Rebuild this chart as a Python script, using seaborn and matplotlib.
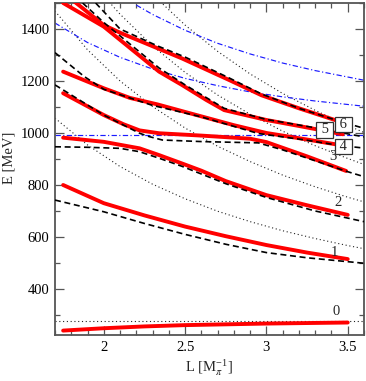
import matplotlib
matplotlib.use("Agg")
import matplotlib.pyplot as plt
import seaborn as sns
from matplotlib.ticker import MultipleLocator, FixedLocator, FixedFormatter

# ---------------- data ----------------
# red solid levels
L_R0 = [1.75, 2.0, 2.25, 2.5, 2.75, 3.0, 3.25, 3.5]
E_R0 = [240, 249, 256, 261, 264, 267, 269, 271]
L_R1 = [1.75, 2.0, 2.25, 2.5, 2.75, 3.0, 3.25, 3.5]
E_R1 = [800, 730, 683, 640, 603, 569, 540, 515]
L_R2 = [1.75, 2.0, 2.22, 2.34, 2.48, 2.6, 2.75, 3.0, 3.25, 3.5]
E_R2 = [982, 966, 941, 915, 883, 855, 815, 761, 722, 685]
L_R3 = [1.75, 2.0, 2.12, 2.22, 2.34, 2.6, 2.9, 3.0, 3.25, 3.49]
E_R3 = [1153, 1069, 1034, 1010, 999, 990, 978, 965, 910, 854]
L_R4 = [1.75, 2.0, 2.16, 2.33, 2.57, 2.8, 3.0, 3.2, 3.45]
E_R4 = [1236, 1172, 1135, 1110, 1069, 1030, 1000, 980, 954]
L_R5 = [1.75, 2.0, 2.34, 2.48, 2.63, 2.74, 3.0, 3.2, 3.47]
E_R5 = [1500, 1409, 1236, 1185, 1127, 1088, 1050, 1027, 995]
L_R6 = [1.82, 2.0, 2.11, 2.33, 2.48, 2.77, 2.97, 3.2, 3.47]
E_R6 = [1505, 1415, 1383, 1326, 1287, 1204, 1145, 1095, 1040]

# black dashed levels
L_D1 = [1.7, 2.0, 2.25, 2.5, 2.75, 3.0, 3.25, 3.45, 3.6]
E_D1 = [742, 697, 652, 610, 572, 540, 520, 508, 499]
L_D2 = [1.7, 1.9, 2.1, 2.22, 2.34, 2.48, 2.75, 3.0, 3.3, 3.6]
E_D2 = [947, 945, 941, 928, 903, 872, 805, 752, 700, 659]
L_D3 = [1.7, 2.0, 2.22, 2.28, 2.36, 2.6, 2.95, 3.1, 3.3, 3.49, 3.6]
E_D3 = [1185, 1069, 999, 986, 973, 967, 962, 935, 893, 853, 832]
L_D4 = [1.7, 1.88, 2.0, 2.3, 2.6, 2.95, 3.24, 3.45, 3.6]
E_D4 = [1309, 1217, 1168, 1106, 1062, 998, 973, 952, 942]
L_D5 = [1.87, 2.0, 2.34, 2.5, 2.74, 3.0, 3.3, 3.6]
E_D5 = [1500, 1425, 1250, 1185, 1095, 1052, 1020, 985]
L_D6 = [1.95, 2.1, 2.33, 2.5, 2.77, 2.97, 3.2, 3.45, 3.6]
E_D6 = [1500, 1400, 1335, 1292, 1212, 1150, 1095, 1045, 1018]

# black dotted (free pi-pi levels)
L_F0 = [1.7, 3.6]
E_F0 = [276, 276]
L_F1 = [1.7, 1.9, 2.1, 2.3, 2.5, 2.7, 2.9, 3.1, 3.3, 3.5, 3.6]
E_F1 = [1057, 954, 871, 803, 747, 699, 659, 624, 594, 567, 555]
L_F2 = [1.7, 1.9, 2.1, 2.3, 2.5, 2.7, 2.9, 3.1, 3.3, 3.5, 3.6]
E_F2 = [1469, 1320, 1200, 1102, 1019, 949, 890, 838, 793, 753, 735]
L_F3 = [2.0, 2.1, 2.3, 2.5, 2.7, 2.9, 3.1, 3.3, 3.5, 3.6]
E_F3 = [1527, 1457, 1335, 1233, 1146, 1072, 1007, 951, 902, 879]
L_F4 = [2.3, 2.5, 2.7, 2.9, 3.1, 3.3, 3.5, 3.6]
E_F4 = [1533, 1415, 1314, 1227, 1152, 1087, 1029, 1002]

# blue dash-dot (free K Kbar levels)
L_K0 = [1.7, 3.6]
E_K0 = [992, 992]
L_K1 = [1.7, 1.9, 2.1, 2.3, 2.5, 2.7, 2.9, 3.1, 3.3, 3.6]
E_K1 = [1423, 1348, 1291, 1246, 1210, 1182, 1158, 1139, 1123, 1103]
L_K2 = [2.2, 2.3, 2.5, 2.7, 2.9, 3.1, 3.3, 3.6]
E_K2 = [1492, 1456, 1395, 1345, 1304, 1269, 1240, 1203]

# level labels
plain_labels = ["0", "1", "2", "3"]
plain_L = [3.43, 3.42, 3.44, 3.41]
plain_E = [312, 542, 731, 908]
box_labels = ["4", "5", "6"]
box_L = [3.475, 3.36, 3.475]
box_E = [947, 1012, 1033]

x_ticks = [2, 2.5, 3, 3.5]
x_tick_labels = ["2", "2.5", "3", "3.5"]
y_ticks = [400, 600, 800, 1000, 1200, 1400]
y_tick_labels = ["400", "600", "800", "1000", "1200", "1400"]

# ---------------- style ----------------
sns.set_theme(style="ticks")
plt.rcParams["font.family"] = ["Liberation Serif", "DejaVu Serif"]
plt.rcParams["mathtext.fontset"] = "stix"

fig = plt.figure(figsize=(3.66, 3.81), dpi=100)
ax = fig.add_axes([55 / 366, 1 - 335 / 381, 309 / 366, 332 / 381])


def draw(L, E, **kw):
    sns.lineplot(x=L, y=E, ax=ax, sort=False, estimator=None, legend=False, **kw)


dot_kw = dict(color="#222222", linewidth=0.8, linestyle=(0, (1, 2.4)), zorder=1)
for L, E in [(L_F0, E_F0), (L_F1, E_F1), (L_F2, E_F2), (L_F3, E_F3), (L_F4, E_F4)]:
    draw(L, E, **dot_kw)

blue_kw = dict(color="#1a1aff", linewidth=0.85, linestyle=(0, (4.5, 2, 1, 2)), zorder=2)
for L, E in [(L_K0, E_K0), (L_K1, E_K1), (L_K2, E_K2)]:
    draw(L, E, **blue_kw)

red_kw = dict(color="#ff0000", linewidth=2.8, linestyle="-", zorder=3)
for L, E in [(L_R0, E_R0), (L_R1, E_R1), (L_R2, E_R2), (L_R3, E_R3),
             (L_R4, E_R4), (L_R5, E_R5), (L_R6, E_R6)]:
    draw(L, E, **red_kw)

dash_kw = dict(color="black", linewidth=1.2, linestyle=(0, (3.6, 2.2)), zorder=4)
for L, E in [(L_D1, E_D1), (L_D2, E_D2), (L_D3, E_D3), (L_D4, E_D4),
             (L_D5, E_D5), (L_D6, E_D6)]:
    draw(L, E, **dash_kw)

for t, x, y in zip(plain_labels, plain_L, plain_E):
    ax.text(x, y, t, ha="center", va="center", fontsize=10.5, zorder=6)
for t, x, y in zip(box_labels, box_L, box_E):
    ax.text(x, y, " " + t + " ", ha="center", va="center", fontsize=10.5, zorder=6,
            bbox=dict(boxstyle="square,pad=0.08", fc="white", ec="#333333", lw=0.9))

ax.set_xlim(1.7, 3.6)
ax.set_ylim(223, 1500)
ax.xaxis.set_major_locator(FixedLocator(x_ticks))
ax.xaxis.set_major_formatter(FixedFormatter(x_tick_labels))
ax.xaxis.set_minor_locator(MultipleLocator(0.1))
ax.yaxis.set_major_locator(FixedLocator(y_ticks))
ax.yaxis.set_major_formatter(FixedFormatter(y_tick_labels))
ax.yaxis.set_minor_locator(MultipleLocator(100))

ax.tick_params(which="both", direction="in", top=True, right=True,
               color="#555555", labelcolor="black", labelsize=10.5, width=0.9)
ax.tick_params(which="major", length=6.5, pad=4)
ax.tick_params(which="minor", length=3.5)
for s in ax.spines.values():
    s.set_color("#555555")
    s.set_linewidth(1.3)

ax.set_xlabel(r"L [M$_{\pi}^{\mathregular{-1}}$]", fontsize=10.5)
ax.set_ylabel("E [MeV]", fontsize=10.5)
ax.xaxis.set_label_coords(0.5, -0.066)
ax.yaxis.set_label_coords(-0.128, 0.535)

fig.savefig("out.png", dpi=100)
